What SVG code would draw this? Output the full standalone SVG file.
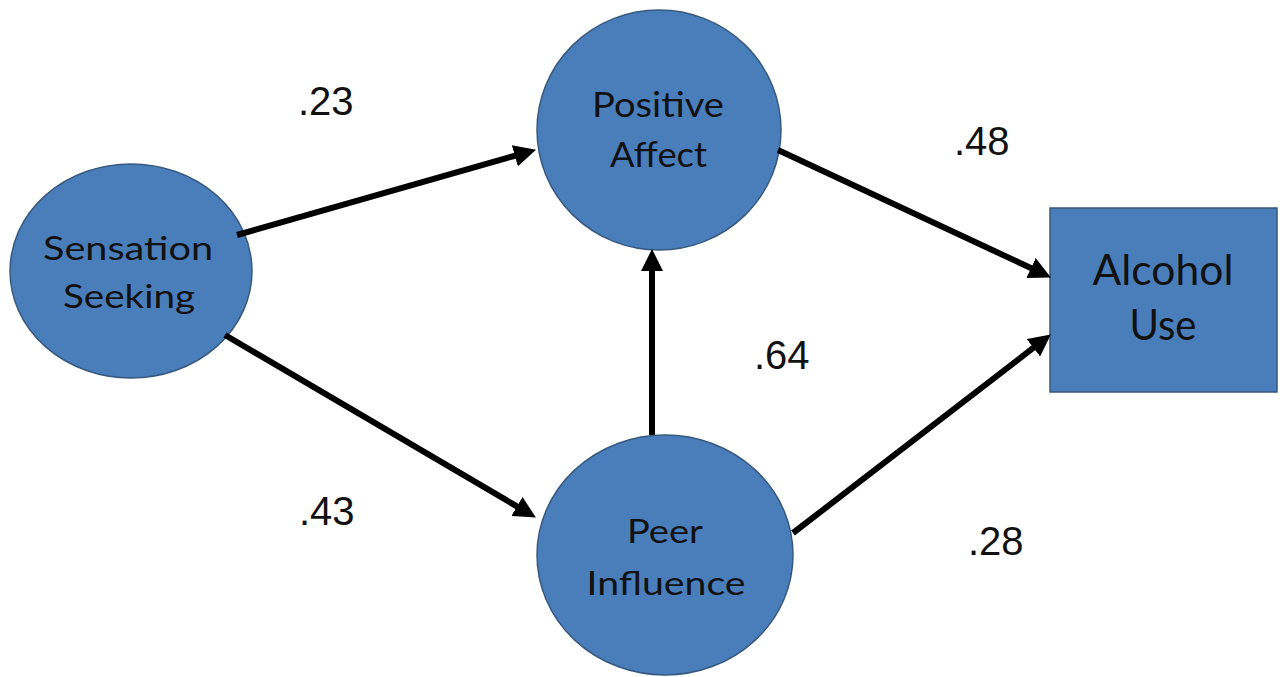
<svg xmlns="http://www.w3.org/2000/svg" width="1285" height="677" viewBox="0 0 1285 677">
<style>
.node{fill:#4A7EBB;stroke:#36597F;stroke-width:1.5}
.lbl{font-family:Lato,"Open Sans",sans-serif;fill:#111;text-anchor:middle}
.coef{font-family:"Liberation Sans",Arial,sans-serif;font-size:40px;fill:#111}
.edge{stroke:#000;stroke-width:6;fill:none;marker-end:url(#arr)}
</style>
<defs>
<marker id="arr" markerUnits="userSpaceOnUse" markerWidth="22" markerHeight="22" viewBox="0 0 22 22" refX="1" refY="11" orient="auto">
<path d="M0,0 L22,11 L0,22 Z" fill="#000"/>
</marker>
</defs>
<rect width="1285" height="677" fill="#fff"/>
<g id="sensation-seeking">
<ellipse class="node" cx="131" cy="271" rx="121" ry="107"/>
<text class="lbl" x="128" y="260" font-size="32" textLength="170" lengthAdjust="spacingAndGlyphs">Sensation</text>
<text class="lbl" x="129" y="308" font-size="32" textLength="132" lengthAdjust="spacingAndGlyphs">Seeking</text>
</g>
<g id="positive-affect">
<ellipse class="node" cx="659" cy="130" rx="122" ry="120"/>
<text class="lbl" x="658" y="117" font-size="34" textLength="132" lengthAdjust="spacingAndGlyphs">Positive</text>
<text class="lbl" x="658.5" y="167" font-size="34" textLength="97" lengthAdjust="spacingAndGlyphs">Affect</text>
</g>
<g id="peer-influence">
<ellipse class="node" cx="665" cy="555" rx="128" ry="120"/>
<text class="lbl" x="665" y="543" font-size="33" textLength="76" lengthAdjust="spacingAndGlyphs">Peer</text>
<text class="lbl" x="666" y="595" font-size="33" textLength="159" lengthAdjust="spacingAndGlyphs">Influence</text>
</g>
<g id="alcohol-use">
<rect class="node" x="1050" y="208" width="227" height="184"/>
<text class="lbl" x="1163" y="285" font-size="42" textLength="141" lengthAdjust="spacingAndGlyphs">Alcohol</text>
<text class="lbl" x="1163" y="340" font-size="42" textLength="67" lengthAdjust="spacingAndGlyphs">Use</text>
</g>
<g id="connectors">
<line class="edge" x1="237" y1="235" x2="515.8" y2="155.5"/>
<line class="edge" x1="225" y1="335" x2="517.8" y2="506.9"/>
<line class="edge" x1="652" y1="435" x2="652" y2="270"/>
<line class="edge" x1="778" y1="150" x2="1031.9" y2="268.5"/>
<line class="edge" x1="793" y1="533" x2="1034.2" y2="347.2"/>
</g>
<g id="coefficients">
<text class="coef" x="298" y="115">.23</text>
<text class="coef" x="954" y="155">.48</text>
<text class="coef" x="754" y="369">.64</text>
<text class="coef" x="299" y="525">.43</text>
<text class="coef" x="968" y="555">.28</text>
</g>
</svg>
